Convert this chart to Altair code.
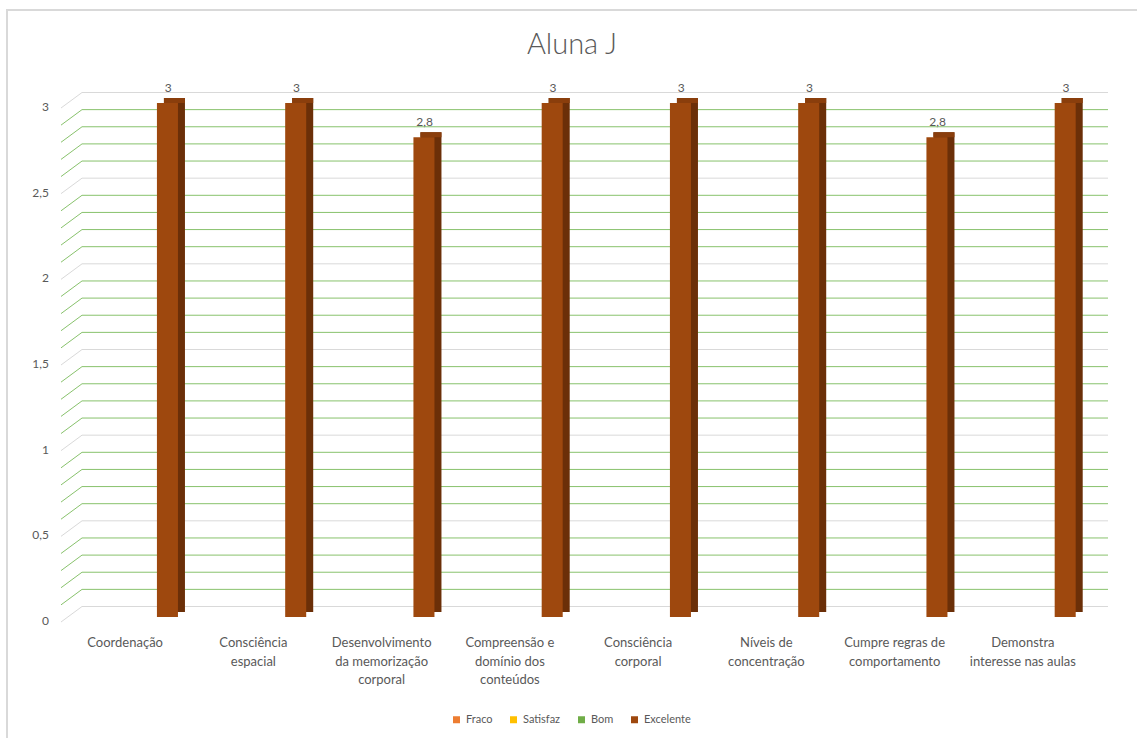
import altair as alt
import pandas as pd

# ---------------- data ----------------
categories = [
    "Coordenação",
    "Consciência espacial",
    "Desenvolvimento da memorização corporal",
    "Compreensão e domínio dos conteúdos",
    "Consciência corporal",
    "Níveis de concentração",
    "Cumpre regras de comportamento",
    "Demonstra interesse nas aulas",
]
category_labels = [
    "Coordenação",
    "Consciência\nespacial",
    "Desenvolvimento\nda memorização\ncorporal",
    "Compreensão e\ndomínio dos\nconteúdos",
    "Consciência\ncorporal",
    "Níveis de\nconcentração",
    "Cumpre regras de\ncomportamento",
    "Demonstra\ninteresse nas aulas",
]
series = ["Fraco", "Satisfaz", "Bom", "Excelente"]
fraco = [None, None, None, None, None, None, None, None]
satisfaz = [None, None, None, None, None, None, None, None]
bom = [None, None, None, None, None, None, None, None]
excelente = [3, 3, 2.8, 3, 3, 3, 2.8, 3]
y_ticks = [0, 0.5, 1, 1.5, 2, 2.5, 3]
grid_values = [0, 0.1, 0.2, 0.3, 0.4, 0.5, 0.6, 0.7, 0.8, 0.9,
               1, 1.1, 1.2, 1.3, 1.4, 1.5, 1.6, 1.7, 1.8, 1.9,
               2, 2.1, 2.2, 2.3, 2.4, 2.5, 2.6, 2.7, 2.8, 2.9, 3]
series_colors = ["#ed7d31", "#ffc000", "#70ad47", "#9e480e"]

# ---------------- tables ----------------
rows = []
for s, vals in zip(series, [fraco, satisfaz, bom, excelente]):
    for c, v in zip(categories, vals):
        if v is not None:
            rows.append({"cat": c, "serie": s, "value": v})
bars_df = pd.DataFrame(rows)
cat_df = pd.DataFrame({"cat": categories, "label": category_labels})
grid_df = pd.DataFrame({"v": grid_values})
grid_df["major"] = [abs(v * 2 - round(v * 2)) < 1e-6 for v in grid_values]
ytick_df = pd.DataFrame({"v": y_ticks})
one = pd.DataFrame({"a": [0]})

# ---------------- layout ----------------
W, H = 1026, 514
PAD = {"left": 61, "top": 103, "right": 50, "bottom": 121}
BW = W / 8 * 0.88
DEPTH_X, DEPTH_Y = 7, 5
FONT = "Lato"
TXT = "#595959"
GREEN = "#88c26c"
GRAY = "#d9d9d9"

xs = alt.Scale(domain=categories, paddingInner=0.12, paddingOuter=0.06)
ys = alt.Scale(domain=[0, 3], nice=False, zero=True)


def off_scale(shift):
    return alt.Scale(domain=series, paddingInner=0.255, paddingOuter=0.1275,
                     range=[shift, BW + shift])


X = alt.X("cat:N", scale=xs, axis=None)
Y = alt.Y("value:Q", scale=ys, axis=None)
GRID_COLOR = alt.condition(alt.datum.major, alt.value(GRAY), alt.value(GREEN))

# back-wall gridlines
grid_h = alt.Chart(grid_df).mark_rule(yOffset=-10.5, strokeWidth=1).encode(
    x=alt.value(21), x2=alt.value(1047),
    y=alt.Y("v:Q", scale=ys, axis=None),
    color=GRID_COLOR,
)
# left-wall perspective segments
grid_d = alt.Chart(grid_df).mark_rule(yOffset=5, y2Offset=-10.5, strokeWidth=1).encode(
    x=alt.value(0), x2=alt.value(21),
    y=alt.Y("v:Q", scale=ys, axis=None), y2="v:Q",
    color=GRID_COLOR,
)
# y tick labels (decimal comma)
ytick_txt = alt.Chart(ytick_df).mark_text(
    align="right", baseline="middle", dy=4, fontSize=12, color=TXT, font=FONT
).encode(
    x=alt.value(-12),
    y=alt.Y("v:Q", scale=ys, axis=None),
    text="lbl:N",
).transform_calculate(lbl="replace(toString(datum.v), '.', ',')")

base = alt.Chart(bars_df)
side = base.mark_bar(color="#6b2f08", yOffset=-DEPTH_Y, y2Offset=-DEPTH_Y).encode(
    x=X, xOffset=alt.XOffset("serie:N", scale=off_scale(DEPTH_X)), y=Y,
)
top = base.mark_bar(color="#8a3e0c", yOffset=-DEPTH_Y, y2Offset=0).encode(
    x=X, xOffset=alt.XOffset("serie:N", scale=off_scale(DEPTH_X)), y=Y, y2="value:Q",
)
front = base.mark_bar().encode(
    x=X, xOffset=alt.XOffset("serie:N", scale=off_scale(0)), y=Y,
    color=alt.Color("serie:N", scale=alt.Scale(domain=series, range=series_colors),
                    legend=alt.Legend(orient="none", legendX=390, legendY=611,
                                      direction="horizontal", title=None,
                                      symbolType="square", symbolSize=49,
                                      symbolStrokeWidth=0, labelFontSize=11,
                                      labelColor=TXT, labelFont=FONT,
                                      columnPadding=15, labelOffset=4)),
)
values_txt = base.mark_text(baseline="alphabetic", dy=-11, dx=-9, fontSize=12,
                            color=TXT, font=FONT).encode(
    x=X, xOffset=alt.XOffset("serie:N", scale=off_scale(0)), y=Y,
    text="lbl:N",
).transform_calculate(lbl="replace(toString(datum.value), '.', ',')")

cat_txt = alt.Chart(cat_df).mark_text(lineBreak="\n", baseline="top", align="center",
                                       fontSize=13, lineHeight=18.5, color=TXT,
                                       font=FONT).encode(
    x=X, y=alt.value(534), text="label:N",
)

title_txt = alt.Chart(one).mark_text(fontSize=29, color=TXT, font=FONT, fontWeight=300,
                                     baseline="middle", align="center").encode(
    x=alt.value(511), y=alt.value(-58), text=alt.value("Aluna J"),
)

border = alt.Chart(one).mark_rect(fillOpacity=0, stroke=GRAY, strokeWidth=2).encode(
    x=alt.value(-54), y=alt.value(-93), x2=alt.value(1090), y2=alt.value(660),
)

chart = alt.layer(
    border, grid_h, grid_d, ytick_txt, side, top, front, values_txt, cat_txt, title_txt
).resolve_scale(xOffset="independent").properties(
    width=W, height=H, padding=PAD, autosize="none", background="white",
).configure_view(stroke=None)

chart.save("out.html", embed_options={"renderer": "svg", "actions": False})
